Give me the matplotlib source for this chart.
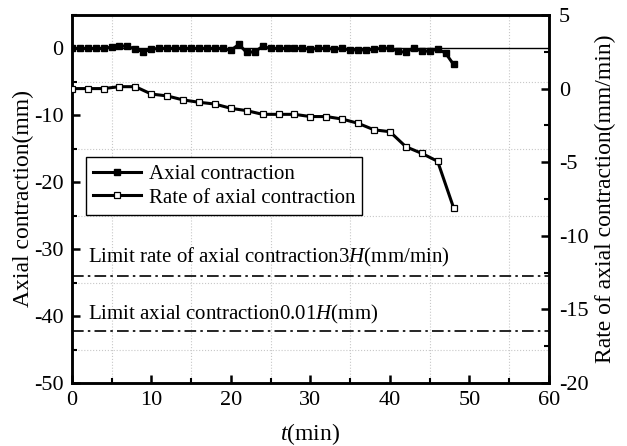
import matplotlib
matplotlib.use('Agg')
import matplotlib.pyplot as plt
from matplotlib.ticker import MultipleLocator

plt.rcParams['font.family'] = ['Liberation Serif', 'DejaVu Serif']
plt.rcParams['mathtext.fontset'] = 'custom'
plt.rcParams['mathtext.rm'] = 'Liberation Serif'
plt.rcParams['mathtext.it'] = 'Liberation Serif:italic'
plt.rcParams['axes.unicode_minus'] = False

# Axial contraction (mm), sampled every minute
t_axial = [0, 1, 2, 3, 4, 5, 6, 7, 8, 9, 10, 11, 12, 13, 14, 15, 16, 17, 18, 19,
           20, 21, 22, 23, 24, 25, 26, 27, 28, 29, 30, 31, 32, 33, 34, 35, 36, 37,
           38, 39, 40, 41, 42, 43, 44, 45, 46, 47, 48]
axial = [0, 0, 0, 0, 0, 0.2, 0.4, 0.3, -0.1, -0.5, -0.1, 0, 0, 0, 0, 0, 0, 0, 0, 0,
         -0.3, 0.6, -0.6, -0.5, 0.3, 0, 0, 0, 0, 0, -0.1, 0, 0, -0.1, 0, -0.25, -0.2, -0.25,
         -0.1, 0, 0.05, -0.4, -0.6, 0.1, -0.4, -0.4, -0.1, -0.7, -2.4]

# Rate of axial contraction (mm/min), sampled every two minutes
t_rate = [0, 2, 4, 6, 8, 10, 12, 14, 16, 18, 20, 22, 24, 26, 28, 30, 32, 34, 36,
          38, 40, 42, 44, 46, 48]
rate = [0, 0, 0, 0.13, 0.13, -0.37, -0.5, -0.77, -0.93, -1.05, -1.34, -1.5, -1.75,
        -1.75, -1.75, -1.9, -1.9, -2.07, -2.36, -2.8, -2.93, -3.95, -4.4, -4.94, -8.09]

limit_rate = -12.7     # right axis, mm/min
limit_axial = -42.2    # left axis, mm

fig = plt.figure(figsize=(6.27, 4.46), dpi=100)
ax = fig.add_axes([0.1144, 0.1413, 0.7612, 0.8251])
ax2 = ax.twinx()

ax.plot(t_axial, axial, '-s', color='black', lw=2.2, ms=3.8, mfc='black',
        label='Axial contraction', zorder=3)
ax.axhline(0, color='black', lw=1, zorder=2)
ax2.plot(t_rate, rate, '-s', color='black', lw=2.2, ms=3.8, mfc='white', mew=0.9,
         label='Rate of axial contraction', zorder=3)

dashdot = (0, (7, 2.5, 1.5, 2.5))
ax2.axhline(limit_rate, color='black', lw=1.2, ls=dashdot)
ax.axhline(limit_axial, color='black', lw=1.2, ls=dashdot)

ax.text(2.05, -31.3, r'Limit rate of axial contraction3$H$(mm/min)', fontsize=15,
        va='center', ha='left')
ax.text(2.05, -39.8, r'Limit axial contraction0.01$H$(mm)', fontsize=15,
        va='center', ha='left')

ax.set_xlim(0, 60)
ax.set_ylim(-50, 5)
ax2.set_ylim(-20, 5)

ax.xaxis.set_major_locator(MultipleLocator(10))
ax.xaxis.set_minor_locator(MultipleLocator(5))
ax.yaxis.set_major_locator(MultipleLocator(10))
ax.yaxis.set_minor_locator(MultipleLocator(5))
ax2.yaxis.set_major_locator(MultipleLocator(5))
ax2.yaxis.set_minor_locator(MultipleLocator(2.5))
ax.set_yticks([0, -10, -20, -30, -40, -50])

# dotted grid on the minor positions only
ax.grid(True, which='minor', color='#c8c8c8', ls=':', lw=0.8)
ax.grid(False, which='major')
ax.set_axisbelow(True)

for a in (ax, ax2):
    for s in a.spines.values():
        s.set_linewidth(1.8)
ax.tick_params(which='major', direction='in', length=6, width=1.8, labelsize=16, pad=6,
               top=False, right=False)
ax.tick_params(which='minor', direction='in', length=3.5, width=1.5, top=False, right=False)
ax2.tick_params(which='major', direction='in', length=6, width=1.8, labelsize=16, pad=7)
ax2.tick_params(which='minor', direction='in', length=3.5, width=1.5)

ax.set_xlabel(r'$t$(min)', fontsize=17, labelpad=8)
ax.set_ylabel('Axial contraction(mm)', fontsize=17, labelpad=0)
ax2.set_ylabel('Rate of axial contraction(mm/min)', fontsize=17, labelpad=5)

h1, l1 = ax.get_legend_handles_labels()
h2, l2 = ax2.get_legend_handles_labels()
leg = ax2.legend(h1 + h2, l1 + l2, loc='upper left', bbox_to_anchor=(0.03, 0.614),
                 fontsize=15, fancybox=False, framealpha=1, edgecolor='black',
                 handlelength=2.3, handletextpad=0.35, borderpad=0.35, labelspacing=0.2,
                 borderaxespad=0)
leg.get_frame().set_linewidth(1.0)

fig.savefig('out.png', dpi=100)
